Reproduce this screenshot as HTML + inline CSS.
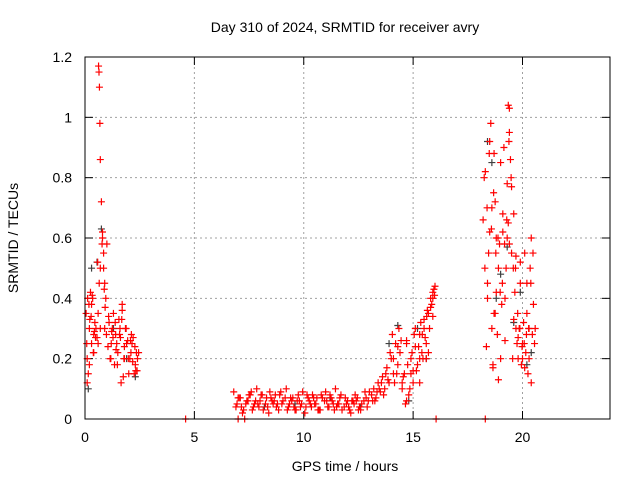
<!DOCTYPE html>
<html><head><meta charset="utf-8"><style>
body{margin:0;background:#fff;}
svg text{font-family:"Liberation Sans",sans-serif;font-size:14px;fill:#000;}
</style></head><body>
<svg id="chart" width="640" height="480">
<text x="345" y="32" text-anchor="middle">Day 310 of 2024, SRMTID for receiver avry</text>
<text x="345" y="471" text-anchor="middle">GPS time / hours</text>
<text transform="translate(18,238) rotate(-90)" text-anchor="middle">SRMTID / TECUs</text>
<g id="grid"></g>
<g id="axes"></g>
<g id="black"></g>
<g id="red"></g>
<rect x="85" y="57" width="525" height="362" fill="none" stroke="#000"/>
</svg>
<script>
const xTicks=[0,5,10,15,20];
const yTicks=[0,0.2,0.4,0.6,0.8,1,1.2];
const yTickLabels=["0","0.2","0.4","0.6","0.8","1","1.2"];
const redX=[0.05,0.1,0.15,0.2,0.25,0.3,0.35,0.4,0.45,0.1,0.2,0.3,0.4,0.5,0.55,0.6,0.65,0.7,0.62,0.64,0.66,0.68,0.7,0.75,0.8,0.85,0.9,0.95,1.0,0.8,0.85,0.9,0.6,0.7,1.1,1.2,1.3,1.4,1.5,1.6,1.7,1.8,1.9,2.0,2.1,2.2,2.3,2.4,1.15,1.25,1.35,1.45,1.55,1.65,1.75,1.85,1.95,2.05,2.15,2.25,2.35,1.7,1.8,
4.6,
6.8,6.95,7.1,7.25,7.4,7.55,7.7,7.85,8.0,8.15,8.3,8.45,8.6,8.75,8.9,9.05,9.2,9.35,9.5,9.65,9.8,9.95,10.1,10.25,10.4,10.55,10.7,10.85,11.0,11.15,11.3,11.45,11.6,11.75,11.9,12.05,12.2,12.35,12.5,12.65,12.8,12.95,
6.9,7.05,7.2,7.35,7.5,7.65,7.8,7.95,8.1,8.25,8.4,8.55,8.7,8.85,9.0,9.15,9.3,9.45,9.6,9.75,9.9,10.05,10.2,10.35,10.5,10.65,10.8,10.95,11.1,11.25,11.4,11.55,11.7,11.85,12.0,12.15,12.3,12.45,12.6,12.75,12.9,
13.1,13.2,13.3,13.4,13.5,13.6,13.7,13.8,13.9,14.0,14.1,14.2,14.3,14.4,13.25,13.45,13.65,13.85,14.05,14.25,14.45,13.95,14.15,14.35,
14.5,14.6,14.7,14.8,14.9,15.0,15.1,15.2,15.3,15.4,15.5,15.6,15.7,15.8,15.9,16.0,14.55,14.65,14.75,14.85,14.95,15.05,15.15,15.25,15.35,15.45,15.55,15.65,15.75,15.85,15.95,14.7,15.0,15.3,15.6,15.9,
7.0,7.3,16.05,18.3,
18.2,18.3,18.4,18.5,18.6,18.7,18.8,18.9,19.0,19.1,19.2,19.3,19.4,19.5,19.6,19.7,19.8,19.9,20.0,20.1,20.2,20.3,20.4,20.5,
18.25,18.35,18.45,18.55,18.65,18.75,18.85,18.95,19.05,19.15,19.25,19.35,19.45,19.55,19.65,19.75,19.85,19.95,20.05,20.15,20.25,20.35,20.45,20.55,
18.4,18.6,18.8,19.0,19.2,19.4,19.6,19.8,20.0,20.2,20.4,18.5,18.7,18.9,19.1,19.3,19.5,19.7,19.9,20.1,20.3,19.35,19.4,18.65,18.75,
0.08,0.18,0.28,0.38,0.48,0.58,0.78,0.88,0.98,1.08,1.18,1.28,1.38,1.48,1.58,1.68,1.78,1.88,1.98,2.08,2.18,2.28,2.38,2.45,0.12,0.22,0.33,0.43,0.92,1.05,1.22,1.42,1.62,2.12,2.32,
7.0,7.15,7.45,7.6,7.9,8.05,8.35,8.5,8.8,8.95,9.25,9.4,9.7,9.85,10.15,10.3,10.6,10.75,11.05,11.2,11.5,11.65,11.95,12.1,12.4,12.55,12.85,13.0,7.75,8.65,9.55,10.45,11.35,12.25,
13.15,13.35,13.55,13.75,14.1,14.3,14.5,14.7,14.9,15.1,15.3,15.5,15.7,15.9,15.98,15.8,15.62,15.42,
18.28,18.48,18.68,18.88,19.08,19.28,19.48,19.68,19.88,20.08,20.28,20.48,18.38,18.58,18.78,18.98,19.18,19.38,19.58,19.78,19.98,20.18,20.38,20.58];
const redY=[0.35,0.2,0.15,0.3,0.42,0.25,0.4,0.28,0.32,0.12,0.18,0.38,0.22,0.3,0.27,0.35,0.45,0.5,1.17,1.15,1.1,0.98,0.86,0.72,0.6,0.55,0.45,0.4,0.58,0.62,0.5,0.3,0.25,0.3,0.32,0.25,0.35,0.28,0.22,0.3,0.38,0.2,0.25,0.15,0.22,0.27,0.18,0.2,0.2,0.3,0.18,0.25,0.33,0.12,0.14,0.3,0.26,0.2,0.25,0.15,0.22,0.36,0.24,
0,
0.09,0.05,0.07,0.03,0.06,0.08,0.04,0.1,0.06,0.03,0.07,0.09,0.05,0.04,0.08,0.06,0.1,0.05,0.07,0.03,0.06,0.09,0.04,0.06,0.08,0.05,0.03,0.07,0.09,0.04,0.06,0.1,0.05,0.03,0.07,0.04,0.06,0.08,0.03,0.05,0.09,0.06,
0.04,0.07,0.02,0.05,0.08,0.03,0.06,0.04,0.08,0.05,0.02,0.06,0.08,0.03,0.05,0.07,0.04,0.06,0.03,0.08,0.05,0.02,0.07,0.04,0.05,0.03,0.08,0.06,0.04,0.07,0.03,0.05,0.08,0.04,0.06,0.02,0.05,0.07,0.03,0.06,0.04,
0.08,0.1,0.07,0.12,0.09,0.14,0.1,0.17,0.12,0.2,0.15,0.25,0.18,0.22,0.06,0.1,0.08,0.13,0.28,0.15,0.26,0.22,0.12,0.3,
0.1,0.15,0.25,0.08,0.2,0.12,0.3,0.18,0.28,0.22,0.33,0.25,0.35,0.4,0.42,0.44,0.14,0.05,0.18,0.1,0.22,0.28,0.16,0.24,0.32,0.2,0.27,0.36,0.3,0.38,0.43,0.06,0.16,0.12,0.2,0.34,
0,0,0,0,
0.66,0.82,0.45,0.92,0.7,0.35,0.6,0.5,0.85,0.62,0.4,0.78,0.95,0.55,0.68,0.3,0.2,0.45,0.25,0.55,0.35,0.2,0.6,0.38,
0.8,0.24,0.55,0.98,0.18,0.72,0.28,0.58,0.38,0.9,0.5,0.65,0.86,0.2,0.42,0.25,0.3,0.18,0.32,0.22,0.15,0.5,0.28,0.25,
0.4,0.3,0.42,0.2,0.26,0.58,0.33,0.27,0.2,0.45,0.12,0.62,0.88,0.13,0.68,0.6,0.77,0.54,0.52,0.17,0.3,1.04,1.03,0.17,0.35,
0.25,0.38,0.34,0.22,0.27,0.52,0.58,0.43,0.28,0.34,0.2,0.27,0.32,0.18,0.28,0.33,0.2,0.3,0.2,0.26,0.19,0.24,0.16,0.22,0.4,0.33,0.41,0.29,0.37,0.24,0.29,0.23,0.27,0.28,0.16,
0.07,0.04,0.06,0.09,0.05,0.08,0.04,0.07,0.05,0.09,0.03,0.07,0.06,0.04,0.08,0.05,0.07,0.03,0.06,0.08,0.04,0.07,0.05,0.03,0.06,0.04,0.07,0.09,0.05,0.06,0.04,0.07,0.05,0.06,
0.06,0.09,0.12,0.15,0.2,0.24,0.12,0.26,0.15,0.24,0.2,0.3,0.22,0.4,0.41,0.37,0.34,0.28,
0.5,0.88,0.75,0.6,0.45,0.66,0.8,0.5,0.3,0.25,0.3,0.55,0.7,0.63,0.55,0.42,0.58,0.92,0.5,0.35,0.24,0.28,0.45,0.3];
const blackX=[0.15,0.3,0.55,0.75,1.3,1.9,2.3,8.2,9.6,11.2,12.6,13.9,14.3,14.8,15.2,15.6,18.4,18.6,18.8,19.0,19.3,19.6,19.9,20.2,20.4];
const blackY=[0.1,0.5,0.52,0.63,0.3,0.2,0.14,0.04,0.05,0.07,0.04,0.25,0.31,0.06,0.3,0.2,0.92,0.85,0.4,0.48,0.57,0.32,0.42,0.18,0.22];

const X=v=>85+v*(525/24), Y=v=>419-v*(362/1.2);
const NS="http://www.w3.org/2000/svg";
const g=document.getElementById('grid'), ax=document.getElementById('axes');
function mk(t,a,p){const e=document.createElementNS(NS,t);for(const k in a)e.setAttribute(k,a[k]);p.appendChild(e);return e;}
xTicks.forEach(v=>{
  if(v>0){const l=mk('line',{x1:X(v),x2:X(v),y1:57,y2:419,stroke:'#a0a0a0','stroke-dasharray':'2,3'},g);
  
  }
  mk('line',{x1:X(v),x2:X(v),y1:419,y2:411,stroke:'#000'},ax);
  mk('line',{x1:X(v),x2:X(v),y1:57,y2:65,stroke:'#000'},ax);
  const t=mk('text',{x:X(v),y:442,'text-anchor':'middle'},ax);t.textContent=String(v);
  
  
});
yTicks.forEach((v,i)=>{
  if(v>0&&v<1.2){const l=mk('line',{x1:85,x2:610,y1:Y(v),y2:Y(v),stroke:'#a0a0a0','stroke-dasharray':'2,3'},g);
  
  }
  mk('line',{x1:85,x2:93,y1:Y(v),y2:Y(v),stroke:'#000'},ax);
  mk('line',{x1:602,x2:610,y1:Y(v),y2:Y(v),stroke:'#000'},ax);
  const t=mk('text',{x:72,y:Y(v)+5,'text-anchor':'end'},ax);t.textContent=yTickLabels[i];
  
  
});
function plot(xs,ys,col,id){
  const p=document.getElementById(id);
  xs.forEach((x,i)=>{const cx=X(x),cy=Y(ys[i]);
    const e=mk('path',{d:`M${cx-3.5},${cy}h7M${cx},${cy-3.5}v7`,stroke:col,'stroke-width':1.2,fill:'none'},p);
    
    });
}
plot(blackX,blackY,'#404040','black');
plot(redX,redY,'#ff0000','red');
</script>
</body></html>
